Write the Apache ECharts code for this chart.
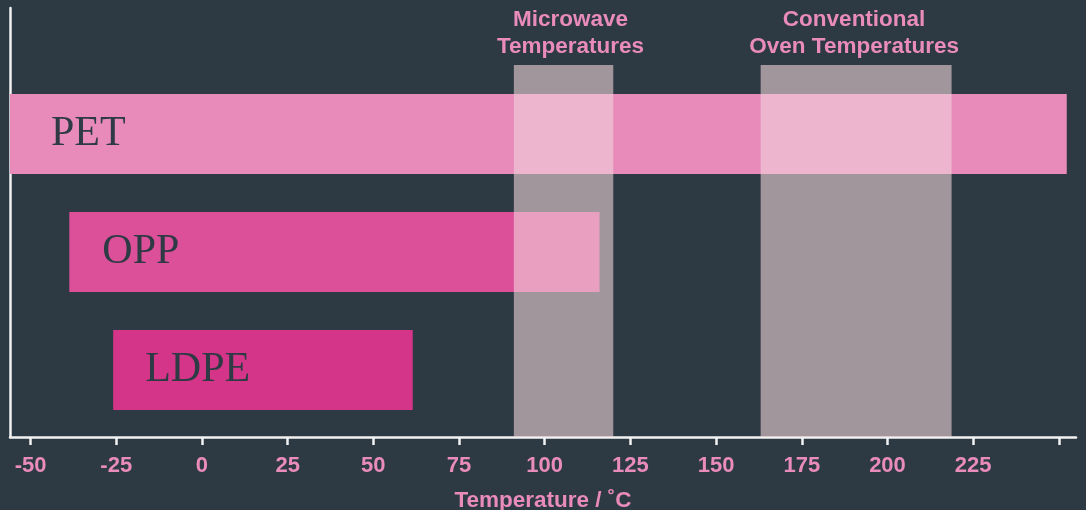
<!DOCTYPE html>
<html>
<head>
<meta charset="utf-8">
<script src="https://cdn.jsdelivr.net/npm/echarts@6/dist/echarts.min.js"></script>
<style>
html,body{margin:0;padding:0;background:#2e3a43;}
#chart{width:1086px;height:510px;}
</style>
</head>
<body>
<div id="chart"></div>
<script>
// ---- data ----
const categories = ['PET', 'OPP', 'LDPE'];
const rangeStart = [-56, -38.7, -25.9];
const rangeEnd = [252.3, 116, 61.5];
const bandNames = ['Microwave\nTemperatures', 'Conventional\nOven Temperatures'];
const bandStart = [91, 163];
const bandEnd = [120, 218.7];
const tickValues = [-50, -25, 0, 25, 50, 75, 100, 125, 150, 175, 200, 225, 250];
const tickLabels = [-50, -25, 0, 25, 50, 75, 100, 125, 150, 175, 200, 225];
const axisTitle = 'Temperature / ˚C';

// ---- styles ----
const barColors = ['#e88bbb', '#dc509a', '#d43588'];
const labelInset = [41, 33, 32];
const bandLabelOffset = [7, -2];
const BAR_H = 0.678;
const Y_MIN = -1.068, Y_MAX = 2.568, BAND_TOP = -0.585;
const pink = '#e98bbb';

const chart = echarts.init(document.getElementById('chart'));
chart.setOption({
  backgroundColor: '#2e3a43',
  animation: false,
  grid: {left: 10, right: 10, top: 8, bottom: 73, containLabel: false, outerBoundsMode: 'none'},
  xAxis: {
    type: 'value', min: -56, max: 255,
    axisLine: {show: true, onZero: false, lineStyle: {color: '#f2f2f2', width: 2.5}},
    axisTick: {show: true, length: 8, customValues: tickValues, lineStyle: {color: '#f2f2f2', width: 2.5}},
    axisLabel: {customValues: tickLabels, margin: 18, color: pink, fontWeight: 'bold', fontSize: 22, fontFamily: 'Liberation Sans'},
    splitLine: {show: false},
    name: axisTitle, nameLocation: 'middle', nameGap: 52,
    nameTextStyle: {color: pink, fontWeight: 'bold', fontSize: 22.5, fontFamily: 'Liberation Sans'}
  },
  yAxis: {
    type: 'value', inverse: true, min: Y_MIN, max: Y_MAX,
    axisLine: {show: true, onZero: false, lineStyle: {color: '#f2f2f2', width: 2.5}},
    axisTick: {show: false}, axisLabel: {show: false}, splitLine: {show: false}
  },
  series: [
    {
      type: 'custom', z: 2,
      encode: {x: [0, 1], y: 2},
      data: categories.map((c, i) => [rangeStart[i], rangeEnd[i], i]),
      renderItem: function (params, api) {
        const i = api.value(2);
        const p0 = api.coord([api.value(0), i]);
        const p1 = api.coord([api.value(1), i]);
        const h = api.size([0, BAR_H])[1];
        const shape = echarts.graphic.clipRectByRect(
          {x: p0[0], y: p0[1] - h / 2, width: p1[0] - p0[0], height: h},
          {x: params.coordSys.x, y: params.coordSys.y, width: params.coordSys.width, height: params.coordSys.height});
        return {
          type: 'rect', shape: shape,
          style: {fill: barColors[i]},
          textContent: {style: {text: categories[i], fill: '#2e3a44', font: '42px "Liberation Serif"'}},
          textConfig: {position: 'insideLeft', distance: labelInset[i]}
        };
      }
    },
    {
      type: 'custom', z: 3,
      encode: {x: [0, 1]},
      data: bandNames.map((n, i) => [bandStart[i], bandEnd[i], i]),
      renderItem: function (params, api) {
        const i = api.value(2);
        const p0 = api.coord([api.value(0), BAND_TOP]);
        const p1 = api.coord([api.value(1), Y_MAX]);
        return {
          type: 'rect',
          shape: {x: p0[0], y: p0[1], width: p1[0] - p0[0], height: p1[1] - p0[1]},
          style: {fill: 'rgba(240,212,219,0.6)'},
          textContent: {style: {text: bandNames[i], fill: pink, font: 'bold 22.5px "Liberation Sans"', lineHeight: 27, align: 'center'}},
          textConfig: {position: 'top', distance: 5, offset: [bandLabelOffset[i], 0]}
        };
      }
    }
  ]
});
</script>
</body>
</html>
